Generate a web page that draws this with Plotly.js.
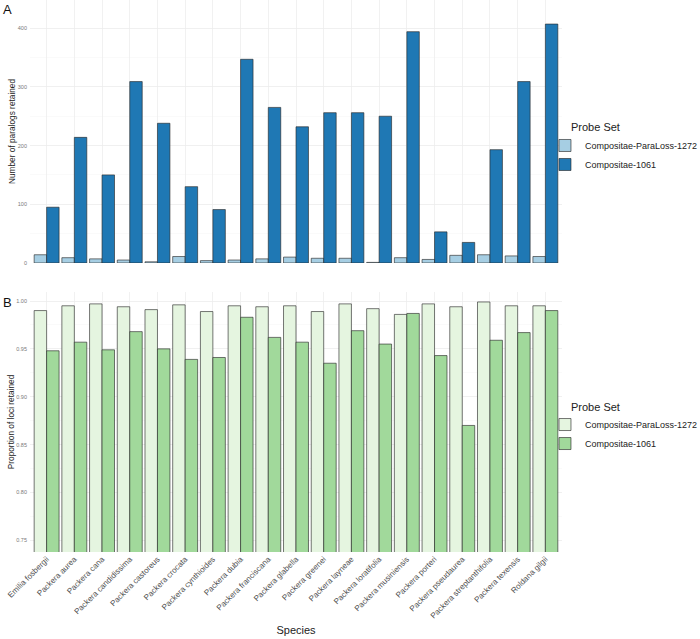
<!DOCTYPE html>
<html>
<head>
<meta charset="utf-8">
<script src="https://cdn.plot.ly/plotly-3.0.1.min.js"></script>
<style>html,body{margin:0;padding:0;background:#fff;}#chart{width:700px;height:639px;}</style>
</head>
<body>
<div id="chart"></div>
<script>
const species = ["Emilia fosbergii","Packera aurea","Packera cana","Packera candidissima","Packera castoreus","Packera crocata","Packera cynthioides","Packera dubia","Packera franciscana","Packera glabella","Packera greenei","Packera layneae","Packera loratifolia","Packera musiniensis","Packera porteri","Packera pseudaurea","Packera streptanthifolia","Packera texensis","Roldana gilgii"];
const probeSets = ["Compositae-ParaLoss-1272", "Compositae-1061"];
const legendTitle = "Probe Set";
const paralogsParaLoss = [14, 9, 7, 5, 2, 11, 4, 5, 7, 10, 8, 8, 1, 9, 6, 13, 14, 12, 11];
const paralogs1061 = [95, 214, 150, 309, 238, 130, 91, 347, 265, 232, 256, 256, 250, 394, 53, 35, 193, 309, 407];
const propParaLoss = [0.990, 0.995, 0.997, 0.994, 0.991, 0.996, 0.989, 0.995, 0.994, 0.995, 0.989, 0.997, 0.992, 0.986, 0.997, 0.994, 0.999, 0.995, 0.995];
const prop1061 = [0.948, 0.957, 0.949, 0.968, 0.950, 0.939, 0.941, 0.983, 0.962, 0.957, 0.935, 0.969, 0.955, 0.987, 0.943, 0.870, 0.959, 0.967, 0.990];
const paralogTicks = [0, 100, 200, 300, 400];
const propTicks = [0.75, 0.80, 0.85, 0.90, 0.95, 1.00];

const outline = {color: 'rgba(40,40,40,0.9)', width: 0.7};
const font = 'Liberation Sans, Arial, sans-serif';

const traces = [
  {type: 'bar', x: species, y: paralogsParaLoss, name: probeSets[0], xaxis: 'x', yaxis: 'y',
   marker: {color: '#a6cee3', line: outline}, legend: 'legend', offsetgroup: 'a'},
  {type: 'bar', x: species, y: paralogs1061, name: probeSets[1], xaxis: 'x', yaxis: 'y',
   marker: {color: '#1f78b4', line: outline}, legend: 'legend', offsetgroup: 'b'},
  {type: 'bar', x: species, y: propParaLoss, name: probeSets[0], xaxis: 'x2', yaxis: 'y2',
   marker: {color: '#e5f5e0', line: outline}, legend: 'legend2', offsetgroup: 'a'},
  {type: 'bar', x: species, y: prop1061, name: probeSets[1], xaxis: 'x2', yaxis: 'y2',
   marker: {color: '#a1d99b', line: outline}, legend: 'legend2', offsetgroup: 'b'}
];

const gridc = '#ebebeb';
const legendCommon = {x: 0.968, xanchor: 'left', yanchor: 'top',
  bgcolor: 'rgba(0,0,0,0)', font: {size: 9, color: '#222'}, itemwidth: 30, tracegroupgap: 0};
const layout = {
  width: 700, height: 639,
  margin: {l: 30, r: 138, t: 0, b: 87, autoexpand: false},
  paper_bgcolor: '#fff', plot_bgcolor: '#fff',
  font: {family: font, color: '#222'},
  barmode: 'group', bargap: 0.1, bargroupgap: 0,
  showlegend: true,
  xaxis: {domain: [0, 1], anchor: 'y', type: 'category', range: [-0.6, 18.6],
    showticklabels: false, showgrid: true, gridcolor: gridc, gridwidth: 0.7,
    zeroline: false, showline: false, ticks: ''},
  yaxis: {domain: [0.5236, 1], anchor: 'x', range: [0, 448],
    tickvals: paralogTicks, ticktext: paralogTicks.map(String),
    tickfont: {size: 5.5, color: '#7a7a7a'}, ticks: '', ticklabelstandoff: 2,
    showgrid: true, gridcolor: gridc, gridwidth: 0.7, zeroline: false,
    minor: {dtick: 50, tick0: 0, showgrid: true, gridcolor: '#f5f5f5', gridwidth: 0.5},
    title: {text: 'Number of paralogs retained', font: {size: 8.3, color: '#222'}, standoff: 0}},
  xaxis2: {domain: [0, 1], anchor: 'y2', type: 'category', range: [-0.6, 18.6],
    tickangle: -45, tickfont: {size: 8, color: '#4d4d4d'}, ticks: '',
    showgrid: true, gridcolor: gridc, gridwidth: 0.7, zeroline: false, showline: false,
    title: {text: 'Species', font: {size: 11, color: '#222'}, standoff: 6}},
  yaxis2: {domain: [0, 0.471], anchor: 'x2', range: [0.7378, 1.0094],
    tickvals: propTicks, ticktext: propTicks.map(v => v.toFixed(2)),
    tickfont: {size: 5.5, color: '#7a7a7a'}, ticks: '', ticklabelstandoff: 2,
    showgrid: true, gridcolor: gridc, gridwidth: 0.7, zeroline: false,
    minor: {dtick: 0.025, tick0: 0.725, showgrid: true, gridcolor: '#f5f5f5', gridwidth: 0.5},
    title: {text: 'Proportion of loci retained', font: {size: 8.3, color: '#222'}, standoff: 0}},
  legend: Object.assign({}, legendCommon, {y: 0.7627}),
  legend2: Object.assign({}, legendCommon, {y: 0.2572}),
  annotations: [
    {text: 'A', xref: 'paper', yref: 'paper', x: -0.054, y: 1.0, xanchor: 'left', yanchor: 'top',
     showarrow: false, font: {size: 13, color: '#111'}},
    {text: 'B', xref: 'paper', yref: 'paper', x: -0.054, y: 0.469, xanchor: 'left', yanchor: 'top',
     showarrow: false, font: {size: 13, color: '#111'}},
    {text: legendTitle, xref: 'paper', yref: 'paper', x: (569 - 30) / 532, y: (552 - 127) / 552,
     xanchor: 'left', yanchor: 'middle', showarrow: false, font: {size: 11, color: '#222'}},
    {text: legendTitle, xref: 'paper', yref: 'paper', x: (569 - 30) / 532, y: (552 - 407) / 552,
     xanchor: 'left', yanchor: 'middle', showarrow: false, font: {size: 11, color: '#222'}}
  ]
};

Plotly.newPlot('chart', traces, layout, {displayModeBar: false, staticPlot: true});
</script>
</body>
</html>
